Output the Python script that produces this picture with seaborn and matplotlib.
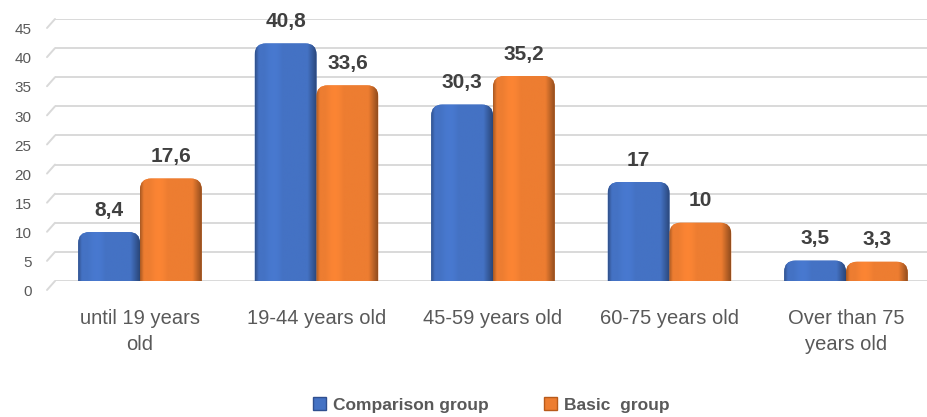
import numpy as np
import pandas as pd
import matplotlib
matplotlib.use("Agg")
import matplotlib.pyplot as plt
from matplotlib import font_manager
from matplotlib.path import Path
from matplotlib.patches import PathPatch, Patch
from matplotlib.transforms import ScaledTranslation
import seaborn as sns

# Data
categories = ["until 19 years\nold", "19-44 years old", "45-59 years old",
              "60-75 years old", "Over than 75\nyears old"]
comparison = [8.4, 40.8, 30.3, 17, 3.5]
basic = [17.6, 33.6, 35.2, 10, 3.3]
series_names = ["Comparison group", "Basic  group"]
value_labels = {
    series_names[0]: ["8,4", "40,8", "30,3", "17", "3,5"],
    series_names[1]: ["17,6", "33,6", "35,2", "10", "3,3"],
}
yticks = [0, 5, 10, 15, 20, 25, 30, 35, 40, 45]

colors = {series_names[0]: "#4472C4", series_names[1]: "#ED7D31"}

df = pd.DataFrame({
    "age": categories * 2,
    "value": comparison + basic,
    "group": [series_names[0]] * 5 + [series_names[1]] * 5,
})

sns.set_theme(style="white")
available = {f.name for f in font_manager.fontManager.ttflist}
narrow = "Liberation Sans Narrow" if "Liberation Sans Narrow" in available else "Liberation Sans"
plt.rcParams["font.family"] = ["Liberation Sans", "DejaVu Sans"]

fig = plt.figure(figsize=(9.27, 4.17), dpi=100)
ax = fig.add_axes([55 / 927, 1 - 281 / 417, 872 / 927, 262 / 417])

sns.barplot(data=df, x="age", y="value", hue="group", palette=colors,
            width=0.7, gap=0, legend=False, ax=ax, saturation=1)

xlim = (-0.4816, 4.459)
ylim = (0, 45)
ax.set_xlim(*xlim)
ax.set_ylim(*ylim)

# pixel scale of one data unit, used to keep bar corners circular
px_x = 872 / (xlim[1] - xlim[0])
px_y = 262 / (ylim[1] - ylim[0])
r_px = 11
rx, ry = r_px / px_x, r_px / px_y


def rounded_top_path(x0, w, h):
    x1 = x0 + w
    ryy = min(ry, h * 0.9)
    verts = [(x0, 0), (x1, 0), (x1, h - ryy), (x1, h), (x1 - rx, h),
             (x0 + rx, h), (x0, h), (x0, h - ryy), (x0, 0)]
    codes = [Path.MOVETO, Path.LINETO, Path.LINETO, Path.CURVE3, Path.CURVE3,
             Path.LINETO, Path.CURVE3, Path.CURVE3, Path.CLOSEPOLY]
    return Path(verts, codes)


def shading(base_hex, n=96):
    base = np.array(matplotlib.colors.to_rgb(base_hex))
    t = np.linspace(0, 1, n)
    s = np.ones(n)
    s = np.where(t < 0.06, 0.72 + (t / 0.06) * 0.28, s)
    s = np.where((t >= 0.15) & (t < 0.45), 1.0 + 0.06 * np.sin((t - 0.15) / 0.3 * np.pi), s)
    s = np.where(t > 0.85, 1.0 - ((t - 0.85) / 0.15) * 0.38, s)
    rgb = np.clip(base[None, :] * s[:, None], 0, 1)
    return rgb[None, :, :]


bars = [p for p in ax.patches]
group_colors = [colors[series_names[0]]] * 5 + [colors[series_names[1]]] * 5
group_labels = value_labels[series_names[0]] + value_labels[series_names[1]]
for bar, col, lab in zip(bars, group_colors, group_labels):
    x0, w, h = bar.get_x(), bar.get_width(), bar.get_height()
    bar.remove()
    patch = PathPatch(rounded_top_path(x0, w, h), facecolor=col,
                      edgecolor="none", zorder=3)
    ax.add_patch(patch)
    im = ax.imshow(shading(col), extent=(x0, x0 + w, 0, h), aspect="auto",
                   zorder=3.1, interpolation="bilinear")
    im.set_clip_path(patch)
    ax.annotate(lab, xy=(x0 + w / 2, h), xytext=(0, 9), textcoords="offset points",
                ha="center", va="bottom", fontsize=15, fontweight="bold",
                color="#404040", zorder=5)

ax.set_xlim(*xlim)
ax.set_ylim(*ylim)

# gridlines with a short slanted floor edge on the left
for v in yticks:
    ax.axhline(v, color="#D9D9D9", lw=1.4, zorder=1)
    ax.plot([-8 / 872, 0], [v - 9 / px_y, v], transform=ax.get_yaxis_transform(),
            color="#D9D9D9", lw=1.4, clip_on=False, zorder=1)

for s in ax.spines.values():
    s.set_visible(False)

ax.set_yticks(yticks)
ax.set_yticklabels([str(v) for v in yticks], fontsize=11, color="#595959")
ax.tick_params(axis="y", length=0, pad=17)
shift = ScaledTranslation(0, -7 / 72, fig.dpi_scale_trans)
for lbl in ax.get_yticklabels():
    lbl.set_transform(lbl.get_transform() + shift)

ax.set_xticks(range(len(categories)))
ax.set_xticklabels(categories, fontsize=14.5, color="#595959", family=narrow,
                   linespacing=1.45)
ax.tick_params(axis="x", length=0, pad=20)
ax.set_xlabel("")
ax.set_ylabel("")

handles = [Patch(facecolor=colors[n], edgecolor="#2F4F8F" if i == 0 else "#B85A1A",
                 label=n) for i, n in enumerate(series_names)]
leg = fig.legend(handles=handles, loc="center", bbox_to_anchor=(0.53, 12 / 417),
                 ncol=2, frameon=False, handlelength=0.75, handleheight=0.75,
                 handletextpad=0.4, columnspacing=3.2,
                 prop={"size": 12.5, "weight": "bold"})
for t in leg.get_texts():
    t.set_color("#595959")

fig.savefig("out.png", dpi=100)
